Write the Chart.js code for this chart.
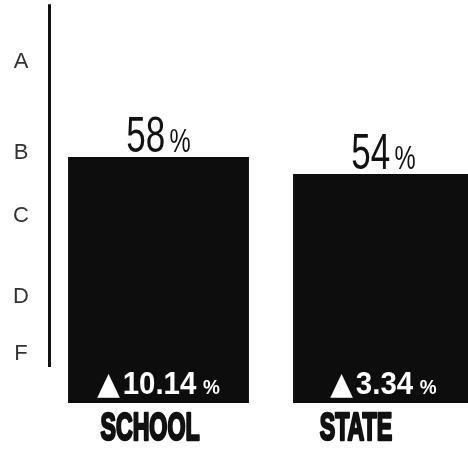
<!DOCTYPE html>
<html>
<head>
<meta charset="utf-8">
<script src="https://cdn.jsdelivr.net/npm/chart.js@4/dist/chart.umd.min.js"></script>
<style>
  html, body { margin: 0; padding: 0; background: #fff; overflow: hidden; }
  #wrap { position: relative; width: 496px; height: 449px; }
</style>
</head>
<body>
<div id="wrap"><canvas id="c"></canvas></div>
<script>
// Share of students at grade level, school vs state
const categories = ['SCHOOL', 'STATE'];
const values = [58, 54];            // percent
const changes = [10.14, 3.34];      // change vs previous year, percent points

// Letter-grade scale shown along the left axis
const gradeLabels = ['A', 'B', 'C', 'D', 'F'];
const gradeLevels = [80.5, 59, 44, 25, 11.5];
const gradeSpan = [94, 8.5];        // extent of the grade rule, in axis units

const BAR = '#0d0d0d';
const INK = '#111';

// Draws a run of text parts side by side, horizontally condensed, centred on cx
function drawRun(ctx, parts, cx, baseline, sx, color, stroke) {
  let total = 0;
  parts.forEach(p => {
    ctx.font = p.font;
    p.w = ctx.measureText(p.text).width;
    total += p.w + (p.gap || 0);
  });
  ctx.save();
  ctx.translate(cx - total * sx / 2, baseline);
  ctx.scale(sx, 1);
  ctx.fillStyle = color;
  ctx.textAlign = 'left';
  ctx.textBaseline = 'alphabetic';
  let x = 0;
  parts.forEach(p => {
    ctx.font = p.font;
    if (stroke) {
      ctx.strokeStyle = color;
      ctx.lineWidth = stroke;
      ctx.lineJoin = 'round';
      ctx.strokeText(p.text, x, 0);
    }
    ctx.fillText(p.text, x, 0);
    x += p.w + (p.gap || 0);
  });
  ctx.restore();
}

const annotate = {
  id: 'annotate',
  afterDatasetsDraw(chart) {
    const ctx = chart.ctx;
    const y = chart.scales.y;
    const xl = chart.scales.xl;

    // vertical grade rule
    ctx.save();
    ctx.strokeStyle = INK;
    ctx.lineWidth = 3;
    ctx.beginPath();
    ctx.moveTo(chart.chartArea.left + 3.5, y.getPixelForValue(gradeSpan[0]));
    ctx.lineTo(chart.chartArea.left + 3.5, y.getPixelForValue(gradeSpan[1]));
    ctx.stroke();
    ctx.restore();

    const meta = chart.getDatasetMeta(0);
    meta.data.forEach((bar, i) => {
      // value above the bar
      drawRun(ctx, [
        { text: String(values[i]), font: '50px "Liberation Sans", Arial, sans-serif', gap: 6 },
        { text: '%', font: '34px "Liberation Sans", Arial, sans-serif' }
      ], bar.x, bar.y - 5, 0.7, INK);

      // change inside the bar foot
      drawRun(ctx, [
        { text: '\u25B2', font: '31px "DejaVu Sans", sans-serif', gap: 3 },
        { text: changes[i].toFixed(2), font: 'bold 31px "Liberation Sans", Arial, sans-serif', gap: 7 },
        { text: '%', font: 'bold 20px "Liberation Sans", Arial, sans-serif' }
      ], bar.x, bar.base - 9, 0.95, '#fff');

      // category caption under the bar
      drawRun(ctx, [
        { text: categories[i], font: 'bold 38px "Liberation Sans", Arial, sans-serif' }
      ], xl.getPixelForValue(i), bar.base + 37, 0.61, INK, 2.6);
    });
  }
};

new Chart(document.getElementById('c'), {
  type: 'bar',
  data: {
    labels: categories,
    datasets: [{
      data: values,
      backgroundColor: BAR,
      borderWidth: 0,
      categoryPercentage: 1,
      barPercentage: 0.804
    }]
  },
  options: {
    responsive: true,
    maintainAspectRatio: false,
    animation: false,
    layout: { padding: { top: 0, right: 0, bottom: 46, left: 0 } },
    plugins: { legend: { display: false }, tooltip: { enabled: false } },
    scales: {
      x: { display: false },
      // caption positions for the category names
      xl: { type: 'linear', display: false, offset: false, bounds: 'data', min: -0.505, max: 1.68 },
      y: {
        min: 0,
        max: 95,
        bounds: 'data',
        afterBuildTicks(scale) {
          scale.ticks = gradeLevels.map(v => ({ value: v }));
        },
        afterFit(scale) {
          scale.width = 46;
          scale.paddingTop = 0;
          scale.paddingBottom = 0;
        },
        grid: { display: false, drawTicks: false },
        border: { display: false },
        ticks: {
          autoSkip: false,
          crossAlign: 'center',
          padding: 17,
          color: '#333',
          font: { family: '"Liberation Sans", Arial, sans-serif', size: 22 },
          callback: (v, i) => gradeLabels[i]
        }
      }
    }
  },
  plugins: [annotate]
});
</script>
</body>
</html>
